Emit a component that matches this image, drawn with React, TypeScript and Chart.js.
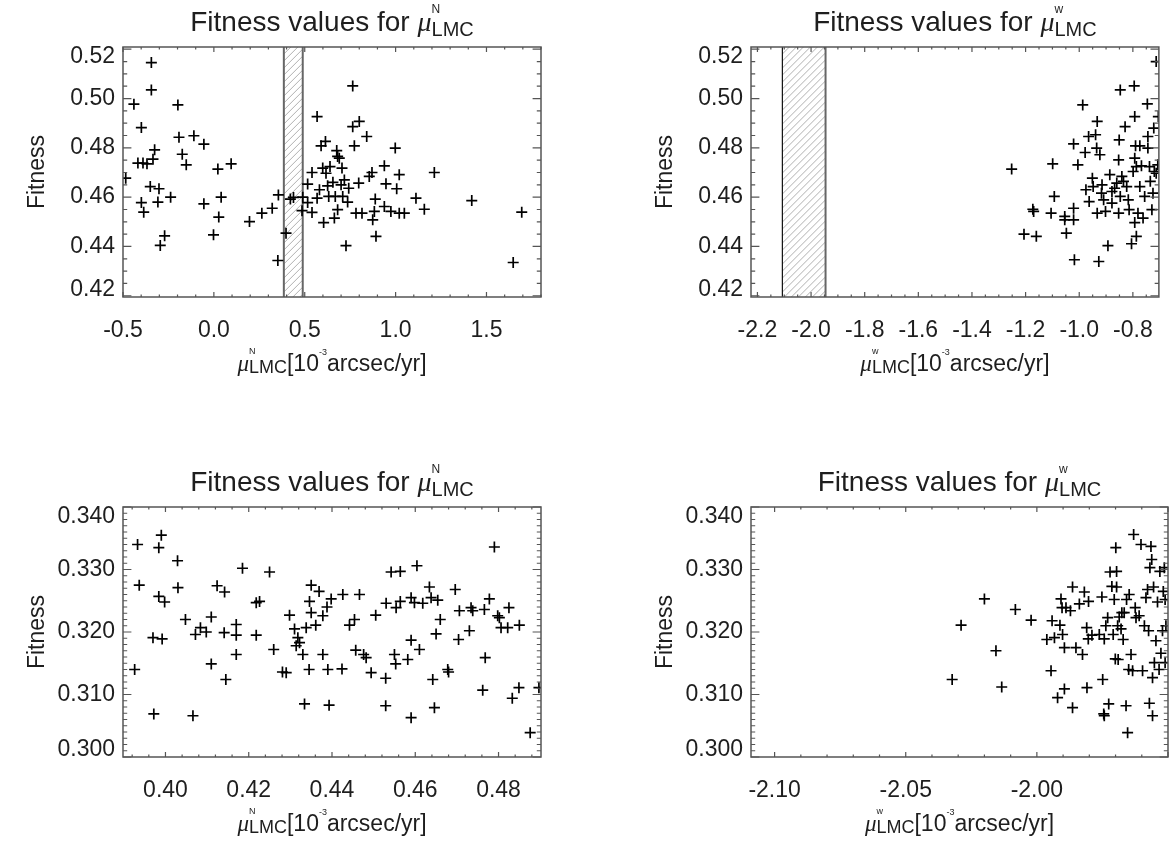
import React, { useEffect, useRef } from "react";
import { Chart, registerables } from "chart.js";
Chart.register(...registerables);

// ---------------- DATA ----------------
// Top-left: mu_N (full range) [x, fitness]
const nAllPoints: number[][] = [
  [-0.485, 0.4677], [-0.44, 0.4977], [-0.399, 0.4882], [-0.418, 0.4738], [-0.39, 0.4738],
  [-0.368, 0.4735], [-0.344, 0.5146], [-0.344, 0.5035], [-0.326, 0.4792], [-0.335, 0.4754],
  [-0.35, 0.4643], [-0.399, 0.4578], [-0.386, 0.4539], [-0.302, 0.4634], [-0.308, 0.458],
  [-0.295, 0.4404], [-0.271, 0.4443], [-0.238, 0.46], [-0.198, 0.4974], [-0.192, 0.4843],
  [-0.174, 0.4774], [-0.152, 0.4731], [-0.11, 0.4849], [-0.055, 0.4815], [-0.055, 0.4573],
  [-0.002, 0.4447], [0.022, 0.4714], [0.04, 0.46], [0.027, 0.4519], [0.095, 0.4735],
  [0.196, 0.4501], [0.264, 0.4535], [0.321, 0.4555], [0.355, 0.4609], [0.352, 0.4343],
  [0.397, 0.4454], [0.421, 0.4592], [0.438, 0.4599], [0.489, 0.46], [0.485, 0.4545],
  [0.516, 0.4653], [0.516, 0.4578], [0.54, 0.4538], [0.54, 0.47], [0.568, 0.4927],
  [0.568, 0.4596], [0.581, 0.463], [0.599, 0.4718], [0.59, 0.4808], [0.614, 0.4826],
  [0.604, 0.4497], [0.617, 0.4697], [0.626, 0.4646], [0.632, 0.4603], [0.639, 0.4724],
  [0.663, 0.4515], [0.668, 0.4603], [0.676, 0.4789], [0.681, 0.4765], [0.69, 0.4758],
  [0.681, 0.4549], [0.705, 0.4718], [0.709, 0.4603], [0.718, 0.467], [0.727, 0.4403],
  [0.736, 0.458], [0.742, 0.4636], [0.764, 0.5051], [0.764, 0.4886], [0.773, 0.4808],
  [0.8, 0.4907], [0.782, 0.4535], [0.815, 0.4535], [0.797, 0.4657], [0.841, 0.4846],
  [0.855, 0.4684], [0.87, 0.47], [0.874, 0.4508], [0.888, 0.4592], [0.892, 0.4441],
  [0.883, 0.4542], [0.938, 0.4727], [0.947, 0.4654], [0.938, 0.4562], [0.974, 0.4542],
  [0.998, 0.4799], [1.006, 0.4634], [1.02, 0.4691], [1.02, 0.4535], [1.048, 0.4535],
  [1.112, 0.4596], [1.158, 0.4551], [1.213, 0.47], [1.419, 0.4586], [1.647, 0.4335],
  [1.694, 0.4539], [0.655, 0.466], [0.7, 0.465],
];

// Top-right: mu_W (full range)
const wAllPoints: number[][] = [
  [-1.252, 0.4714], [-1.206, 0.445], [-1.173, 0.4551], [-1.17, 0.4542], [-1.16, 0.4441],
  [-1.105, 0.4535], [-1.099, 0.4735], [-1.093, 0.4603], [-1.054, 0.4522], [-1.054, 0.4508],
  [-1.048, 0.4454], [-1.021, 0.4816], [-1.018, 0.4346], [-1.021, 0.4555], [-1.021, 0.4508],
  [-1.005, 0.4731], [-0.987, 0.4974], [-0.978, 0.4781], [-0.975, 0.463], [-0.965, 0.4846],
  [-0.963, 0.4582], [-0.951, 0.4677], [-0.948, 0.4643], [-0.939, 0.4853], [-0.935, 0.4799],
  [-0.933, 0.4907], [-0.927, 0.4339], [-0.923, 0.4772], [-0.933, 0.4535], [-0.917, 0.4616],
  [-0.915, 0.465], [-0.909, 0.4589], [-0.902, 0.4542], [-0.893, 0.4403], [-0.886, 0.4691],
  [-0.878, 0.4623], [-0.868, 0.4636], [-0.86, 0.4657], [-0.851, 0.4832], [-0.853, 0.4751],
  [-0.847, 0.5035], [-0.853, 0.4535], [-0.847, 0.4603], [-0.841, 0.4684], [-0.829, 0.4886],
  [-0.823, 0.4643], [-0.817, 0.4589], [-0.814, 0.4549], [-0.805, 0.4411], [-0.795, 0.5051],
  [-0.793, 0.4927], [-0.793, 0.4758], [-0.79, 0.4808], [-0.793, 0.4497], [-0.787, 0.4441],
  [-0.781, 0.4535], [-0.774, 0.4808], [-0.774, 0.4643], [-0.768, 0.4727], [-0.762, 0.4515],
  [-0.756, 0.4603], [-0.746, 0.4978], [-0.744, 0.4846], [-0.744, 0.4799], [-0.738, 0.4724],
  [-0.729, 0.4549], [-0.725, 0.4616], [-0.722, 0.488], [-0.72, 0.4704], [-0.713, 0.515],
  [-0.713, 0.4697], [-0.707, 0.4731], [-0.735, 0.4664], [-0.799, 0.4704], [-0.787, 0.4724],
  [-0.878, 0.4576], [-0.835, 0.4664], [-0.705, 0.4927],
];

// Bottom-left: mu_N (zoomed)
const nZoomPoints: number[][] = [
  [0.3926, 0.314], [0.3933, 0.334], [0.3937, 0.3275], [0.3972, 0.3069], [0.397, 0.3191],
  [0.3984, 0.3335], [0.399, 0.3355], [0.3984, 0.3257], [0.3992, 0.3189], [0.3998, 0.3248],
  [0.4029, 0.3314], [0.403, 0.3271], [0.4048, 0.322], [0.4066, 0.3066], [0.4072, 0.3196],
  [0.4084, 0.3207], [0.4098, 0.32], [0.411, 0.3224], [0.411, 0.3149], [0.4124, 0.3274],
  [0.4142, 0.3264], [0.4141, 0.3199], [0.4145, 0.3124], [0.417, 0.3212], [0.417, 0.3195],
  [0.417, 0.3164], [0.4185, 0.3302], [0.4218, 0.3247], [0.4218, 0.3195], [0.4226, 0.3249],
  [0.425, 0.3296], [0.426, 0.3172], [0.4281, 0.3136], [0.429, 0.3135], [0.4298, 0.3227],
  [0.431, 0.3205], [0.4314, 0.3178], [0.4318, 0.3191], [0.4322, 0.3183], [0.433, 0.3164],
  [0.4334, 0.3085], [0.4338, 0.3207], [0.4345, 0.314], [0.4346, 0.3249], [0.435, 0.3275],
  [0.435, 0.3231], [0.4361, 0.3211], [0.4369, 0.3265], [0.4378, 0.3226], [0.4378, 0.3164],
  [0.4388, 0.324], [0.4393, 0.3083], [0.439, 0.314], [0.4398, 0.3253], [0.4424, 0.3141],
  [0.4426, 0.326], [0.4442, 0.3211], [0.4454, 0.322], [0.4457, 0.3171], [0.4466, 0.326],
  [0.4476, 0.3164], [0.4482, 0.3159], [0.4494, 0.3135], [0.4505, 0.3227], [0.4529, 0.3126],
  [0.4529, 0.3082], [0.453, 0.3246], [0.4542, 0.3296], [0.455, 0.3164], [0.4553, 0.3149],
  [0.4554, 0.3239], [0.4564, 0.3297], [0.4564, 0.3249], [0.4582, 0.3156], [0.459, 0.3255],
  [0.459, 0.3187], [0.459, 0.3063], [0.4598, 0.3247], [0.4604, 0.3306], [0.461, 0.3172],
  [0.4618, 0.3246], [0.4634, 0.3272], [0.4638, 0.3255], [0.4642, 0.3124], [0.4646, 0.3079],
  [0.465, 0.3197], [0.4654, 0.3251], [0.466, 0.322], [0.4678, 0.314], [0.468, 0.3136],
  [0.4696, 0.3268], [0.4706, 0.3234], [0.4704, 0.3188], [0.473, 0.3202], [0.4734, 0.3239],
  [0.4738, 0.3234], [0.4762, 0.3107], [0.4766, 0.3236], [0.4768, 0.3159], [0.4778, 0.3253],
  [0.479, 0.3336], [0.4798, 0.3226], [0.4802, 0.3223], [0.4806, 0.3207], [0.4825, 0.3239],
  [0.4822, 0.3207], [0.4833, 0.3094], [0.4849, 0.3111], [0.485, 0.3211], [0.4876, 0.3039],
  [0.4897, 0.3111],
];

// Bottom-right: mu_W (zoomed)
const wZoomPoints: number[][] = [
  [-2.0323, 0.3124], [-2.0289, 0.3211], [-2.02, 0.3253], [-2.0156, 0.317], [-2.0134, 0.3112],
  [-2.0082, 0.3236], [-2.0022, 0.3219], [-1.9962, 0.3188], [-1.9946, 0.3138], [-1.9942, 0.3218],
  [-1.9933, 0.3191], [-1.9921, 0.3095], [-1.9912, 0.3211], [-1.9908, 0.3253], [-1.9902, 0.3196],
  [-1.9904, 0.3239], [-1.9895, 0.3175], [-1.9895, 0.3109], [-1.9889, 0.3239], [-1.9872, 0.3234],
  [-1.9864, 0.3272], [-1.9864, 0.3079], [-1.9851, 0.3175], [-1.9838, 0.3245], [-1.9826, 0.3164],
  [-1.9819, 0.3264], [-1.981, 0.3207], [-1.9809, 0.3111], [-1.9804, 0.3189], [-1.9803, 0.3249],
  [-1.979, 0.3195], [-1.9762, 0.3196], [-1.9752, 0.3256], [-1.9749, 0.3124], [-1.9745, 0.3069],
  [-1.9743, 0.3066], [-1.9737, 0.321], [-1.973, 0.3223], [-1.9726, 0.3085], [-1.9721, 0.3296],
  [-1.9714, 0.3273], [-1.9709, 0.3196], [-1.9705, 0.3252], [-1.9701, 0.3157], [-1.9699, 0.3335],
  [-1.9696, 0.3297], [-1.9696, 0.3272], [-1.9692, 0.321], [-1.969, 0.3156], [-1.9686, 0.3224],
  [-1.9679, 0.3205], [-1.9676, 0.3231], [-1.9671, 0.3188], [-1.9667, 0.3231], [-1.966, 0.3082],
  [-1.9654, 0.3039], [-1.9658, 0.3252], [-1.965, 0.314], [-1.9648, 0.326], [-1.9641, 0.3164],
  [-1.9635, 0.3138], [-1.9631, 0.3356], [-1.9625, 0.3239], [-1.9622, 0.3223], [-1.961, 0.3226],
  [-1.9603, 0.334], [-1.9597, 0.3138], [-1.959, 0.321], [-1.9584, 0.3255], [-1.9578, 0.3268],
  [-1.9574, 0.3202], [-1.9571, 0.3086], [-1.9569, 0.3303], [-1.9565, 0.3337], [-1.9562, 0.3316],
  [-1.9559, 0.3066], [-1.9559, 0.3127], [-1.9555, 0.3272], [-1.9552, 0.3151], [-1.9546, 0.3186],
  [-1.954, 0.3248], [-1.9534, 0.314], [-1.9531, 0.3297], [-1.9527, 0.3166], [-1.9521, 0.3202],
  [-1.9518, 0.3265], [-1.9514, 0.3303], [-1.9511, 0.3151], [-1.9511, 0.3252], [-1.9508, 0.321],
  [-1.9743, 0.3189],
];

// Hatched bands (range of the zoomed panels)
const bandN = [0.385, 0.489];
const bandW = [-2.107, -1.946];

// Tick labels
const xTicksNAll = [-0.5, 0.0, 0.5, 1.0, 1.5];
const xTicksWAll = [-2.2, -2.0, -1.8, -1.6, -1.4, -1.2, -1.0, -0.8];
const xTicksNZoom = [0.4, 0.42, 0.44, 0.46, 0.48];
const xTicksWZoom = [-2.1, -2.05, -2.0];
const yTicksAll = [0.42, 0.44, 0.46, 0.48, 0.5, 0.52];
const yTicksZoom = [0.3, 0.31, 0.32, 0.33, 0.34];

// ---------------- STYLE / LAYOUT ----------------
const SANS = '"Liberation Sans", Arial, Helvetica, sans-serif';
const SERIF = '"Liberation Serif", "Times New Roman", serif';
const TEXT = "#1e1e1e";
const AXIS = "#555555";
const TICK_SIZE = 23;

type Cfg = {
  pts: number[][];
  xMin: number; xMax: number; yMin: number; yMax: number;
  xTicks: number[]; xDec: number; xMinor: number;
  yTicks: number[]; yDec: number; yMinor: number;
  band?: number[]; bandLeftColor?: string; bandLeftWidth?: number;
  comp: string;
  left: number; top: number; width: number; height: number; plotW: number;
};

const PLOT_LEFT = 123;
const PLOT_TOP = 47;
const PLOT_H = 250;
const XAXIS_H = 80;

const panels: Cfg[] = [
  {
    pts: nAllPoints, xMin: -0.5, xMax: 1.8, yMin: 0.4195, yMax: 0.5209,
    xTicks: xTicksNAll, xDec: 1, xMinor: 0.1, yTicks: yTicksAll, yDec: 2, yMinor: 0.005,
    band: bandN, bandLeftColor: "#666", bandLeftWidth: 2, comp: "N",
    left: 0, top: 0, width: 586, height: 424, plotW: 418,
  },
  {
    pts: wAllPoints, xMin: -2.224, xMax: -0.703, yMin: 0.4195, yMax: 0.5209,
    xTicks: xTicksWAll, xDec: 1, xMinor: 0.05, yTicks: yTicksAll, yDec: 2, yMinor: 0.005,
    band: bandW, bandLeftColor: "#111", bandLeftWidth: 1.2, comp: "w",
    left: 628, top: 0, width: 545, height: 424, plotW: 417,
  },
  {
    pts: nZoomPoints, xMin: 0.3898, xMax: 0.4902, yMin: 0.3, yMax: 0.34,
    xTicks: xTicksNZoom, xDec: 2, xMinor: 0.004, yTicks: yTicksZoom, yDec: 3, yMinor: 0.001,
    comp: "N", left: 0, top: 460, width: 586, height: 388, plotW: 418,
  },
  {
    pts: wZoomPoints, xMin: -2.109, xMax: -1.95, yMin: 0.3, yMax: 0.34,
    xTicks: xTicksWZoom, xDec: 2, xMinor: 0.01, yTicks: yTicksZoom, yDec: 3, yMinor: 0.001,
    comp: "w", left: 628, top: 460, width: 545, height: 388, plotW: 417,
  },
];

function stepValues(min: number, max: number, step: number): number[] {
  const out: number[] = [];
  const a = Math.ceil(min / step - 1e-6);
  const b = Math.floor(max / step + 1e-6);
  for (let k = a; k <= b; k++) out.push(k * step);
  return out;
}

type Piece = { t: string; f: string; dy: number } | { stack: { t: string; f: string; dy: number }[] };

function drawRich(ctx: CanvasRenderingContext2D, parts: Piece[], cx: number, baseline: number) {
  const widths = parts.map((p) => {
    if ("stack" in p) {
      return Math.max(...p.stack.map((s) => { ctx.font = s.f; return ctx.measureText(s.t).width; }));
    }
    ctx.font = p.f;
    return ctx.measureText(p.t).width;
  });
  const total = widths.reduce((a, b) => a + b, 0);
  let x = cx - total / 2;
  ctx.textAlign = "left";
  ctx.textBaseline = "alphabetic";
  ctx.fillStyle = TEXT;
  parts.forEach((p, i) => {
    if ("stack" in p) {
      p.stack.forEach((s) => { ctx.font = s.f; ctx.fillText(s.t, x, baseline + s.dy); });
    } else {
      ctx.font = p.f;
      ctx.fillText(p.t, x, baseline + p.dy);
    }
    x += widths[i];
  });
}

function makeDecor(cfg: Cfg) {
  return {
    id: "decor",
    beforeDatasetsDraw(chart: any) {
      if (!cfg.band) return;
      const { ctx, chartArea: a, scales } = chart;
      const l = scales.x.getPixelForValue(cfg.band[0]);
      const r = scales.x.getPixelForValue(cfg.band[1]);
      const h = a.bottom - a.top;
      ctx.save();
      ctx.beginPath();
      ctx.rect(l, a.top, r - l, h);
      ctx.clip();
      ctx.strokeStyle = "#b0b0b0";
      ctx.lineWidth = 1;
      for (let s = l - h; s < r + 8; s += 7) {
        ctx.beginPath();
        ctx.moveTo(s, a.bottom);
        ctx.lineTo(s + h, a.top);
        ctx.stroke();
      }
      ctx.restore();
      ctx.save();
      ctx.strokeStyle = cfg.bandLeftColor || "#666";
      ctx.lineWidth = cfg.bandLeftWidth || 2;
      ctx.beginPath(); ctx.moveTo(l, a.top); ctx.lineTo(l, a.bottom); ctx.stroke();
      ctx.strokeStyle = "#666";
      ctx.lineWidth = 2;
      ctx.beginPath(); ctx.moveTo(r, a.top); ctx.lineTo(r, a.bottom); ctx.stroke();
      ctx.restore();
    },
    afterDraw(chart: any) {
      const { ctx, chartArea: a, scales } = chart;
      const xs = scales.x, ys = scales.y;
      ctx.save();
      // frame
      ctx.strokeStyle = AXIS;
      ctx.lineWidth = 1.5;
      ctx.strokeRect(a.left, a.top, a.right - a.left, a.bottom - a.top);
      // ticks
      ctx.lineWidth = 1.2;
      const xMajLen = 5, xMinLen = 2.5, yMajLen = 8.4, yMinLen = 4.2;
      const isMajor = (v: number, list: number[], step: number) => list.some((m) => Math.abs(m - v) < step * 1e-3);
      const xMajorStep = cfg.xTicks.length > 1 ? cfg.xTicks[1] - cfg.xTicks[0] : 1;
      const yMajorStep = cfg.yTicks[1] - cfg.yTicks[0];
      const xMajors = stepValues(cfg.xMin, cfg.xMax, xMajorStep);
      const yMajors = stepValues(cfg.yMin, cfg.yMax, yMajorStep);
      stepValues(cfg.xMin, cfg.xMax, cfg.xMinor).forEach((v) => {
        const len = isMajor(v, xMajors, cfg.xMinor) ? xMajLen : xMinLen;
        const px = xs.getPixelForValue(v);
        ctx.beginPath();
        ctx.moveTo(px, a.bottom); ctx.lineTo(px, a.bottom - len);
        ctx.moveTo(px, a.top); ctx.lineTo(px, a.top + len);
        ctx.stroke();
      });
      stepValues(cfg.yMin, cfg.yMax, cfg.yMinor).forEach((v) => {
        const len = isMajor(v, yMajors, cfg.yMinor) ? yMajLen : yMinLen;
        const py = ys.getPixelForValue(v);
        ctx.beginPath();
        ctx.moveTo(a.left, py); ctx.lineTo(a.left + len, py);
        ctx.moveTo(a.right, py); ctx.lineTo(a.right - len, py);
        ctx.stroke();
      });
      // y tick labels
      ctx.fillStyle = TEXT;
      ctx.font = `${TICK_SIZE}px ${SANS}`;
      ctx.textAlign = "right";
      ctx.textBaseline = "middle";
      cfg.yTicks.forEach((v) => {
        let py = ys.getPixelForValue(v);
        py = Math.min(Math.max(py, a.top + 10), a.bottom - 7);
        ctx.fillText(v.toFixed(cfg.yDec), a.left - 8, py);
      });
      // title
      const cx = (a.left + a.right) / 2;
      drawRich(ctx, [
        { t: "Fitness values for ", f: `28px ${SANS}`, dy: 0 },
        { t: "μ", f: `italic 28px ${SERIF}`, dy: 0 },
        { stack: [
          { t: cfg.comp, f: `12px ${SANS}`, dy: -18 },
          { t: "LMC", f: `20px ${SANS}`, dy: 5 },
        ] },
      ], cx, 31);
      // x-axis title
      drawRich(ctx, [
        { t: "μ", f: `italic 23px ${SERIF}`, dy: 0 },
        { stack: [
          { t: cfg.comp, f: `9px ${SANS}`, dy: -17 },
          { t: "LMC", f: `18px ${SANS}`, dy: 2 },
        ] },
        { t: "[10", f: `23px ${SANS}`, dy: 0 },
        { t: "-3", f: `9px ${SANS}`, dy: -16 },
        { t: "arcsec/yr]", f: `23px ${SANS}`, dy: 0 },
      ], cx, a.bottom + 74);
      ctx.restore();
    },
  };
}

function Panel({ cfg }: { cfg: Cfg }) {
  const ref = useRef<HTMLCanvasElement>(null);
  useEffect(() => {
    const canvas = ref.current;
    if (!canvas) return;
    const chart = new Chart(canvas, {
      type: "scatter",
      data: {
        datasets: [
          {
            data: cfg.pts.map((p) => ({ x: p[0], y: p[1] })),
            pointStyle: "cross",
            pointRadius: 5.5,
            pointHoverRadius: 5.5,
            borderColor: "#000",
            backgroundColor: "#000",
            borderWidth: 1.7,
            clip: 0,
          } as any,
        ],
      },
      options: {
        responsive: false,
        animation: false,
        events: [],
        layout: {
          autoPadding: false,
          padding: {
            left: 0,
            top: PLOT_TOP,
            right: cfg.width - PLOT_LEFT - cfg.plotW,
            bottom: cfg.height - PLOT_TOP - PLOT_H - XAXIS_H,
          },
        },
        plugins: {
          legend: { display: false },
          tooltip: { enabled: false },
          title: { display: false },
        },
        scales: {
          x: {
            type: "linear",
            min: cfg.xMin,
            max: cfg.xMax,
            grid: { display: false, drawTicks: false },
            border: { display: false },
            afterBuildTicks: (s: any) => {
              s.ticks = cfg.xTicks.map((v) => ({ value: v }));
            },
            afterFit: (s: any) => {
              s.height = XAXIS_H;
            },
            ticks: {
              autoSkip: false,
              maxRotation: 0,
              minRotation: 0,
              padding: 20,
              color: TEXT,
              font: { family: SANS, size: TICK_SIZE },
              callback: (v: any) => Number(v).toFixed(cfg.xDec),
            },
          },
          y: {
            type: "linear",
            min: cfg.yMin,
            max: cfg.yMax,
            grid: { display: false, drawTicks: false },
            border: { display: false },
            ticks: { display: false },
            afterFit: (s: any) => {
              s.width = PLOT_LEFT;
            },
            title: {
              display: true,
              text: "Fitness",
              color: TEXT,
              font: { family: SANS, size: TICK_SIZE },
              padding: { top: 24, bottom: 0 },
            },
          },
        },
      } as any,
      plugins: [makeDecor(cfg) as any],
    });
    return () => chart.destroy();
  }, [cfg]);
  return (
    <canvas
      ref={ref}
      width={cfg.width}
      height={cfg.height}
      style={{ position: "absolute", left: cfg.left, top: cfg.top, width: cfg.width, height: cfg.height }}
    />
  );
}

export default function App() {
  return (
    <div
      style={{
        position: "fixed",
        left: 0,
        top: 0,
        width: 1173,
        height: 848,
        overflow: "hidden",
        background: "#ffffff",
      }}
    >
      {panels.map((p, i) => (
        <Panel key={i} cfg={p} />
      ))}
    </div>
  );
}
